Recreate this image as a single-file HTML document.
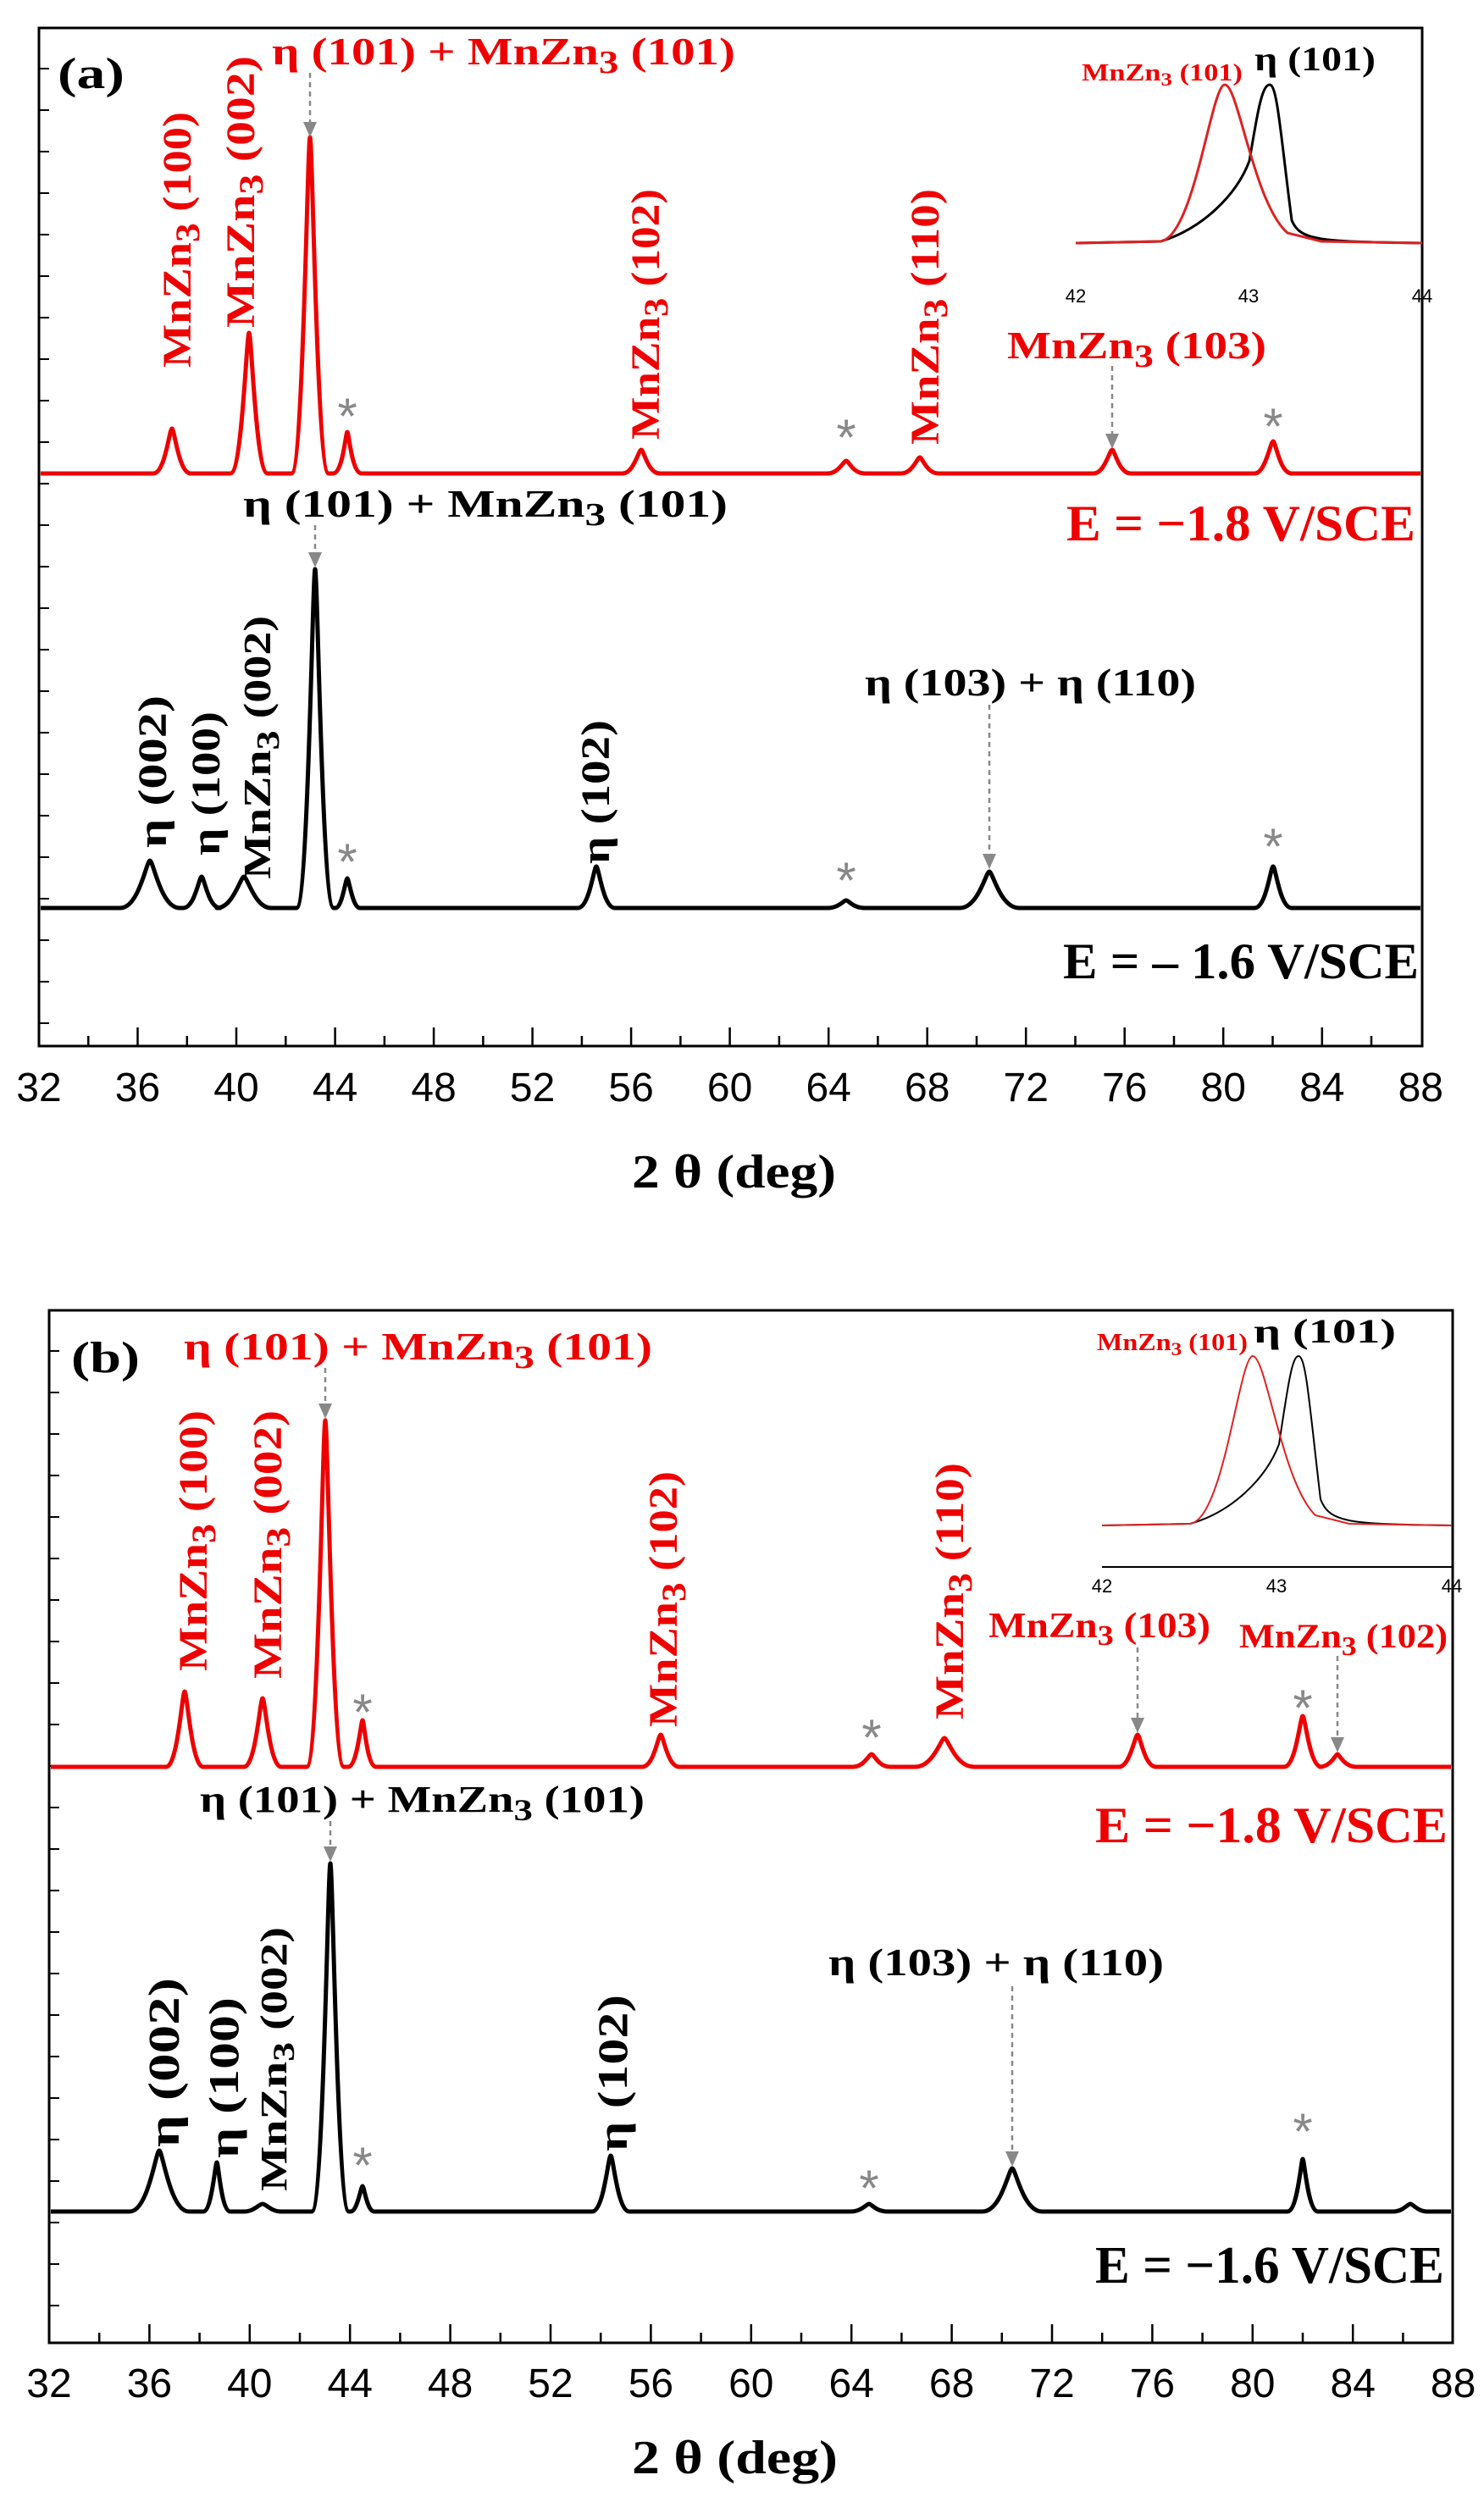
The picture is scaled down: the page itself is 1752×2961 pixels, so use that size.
<!DOCTYPE html>
<html><head><meta charset="utf-8"><style>
html,body{margin:0;padding:0;background:#fff}
svg{display:block}
.t{font-family:"Liberation Serif",serif;font-weight:bold}
.s{font-family:"Liberation Sans",sans-serif}
</style></head><body>
<svg width="1752" height="2961" viewBox="0 0 1752 2961" xmlns="http://www.w3.org/2000/svg">
<rect width="1752" height="2961" fill="#fff"/>

<!-- ===== Panel a frame ===== -->
<rect x="46" y="33" width="1633" height="1202" fill="none" stroke="#000" stroke-width="3"/>
<path d="M46 1235v-22M162.5 1235v-22M279 1235v-22M395.6 1235v-22M512.1 1235v-22M628.6 1235v-22M745.1 1235v-22M861.6 1235v-22M978.2 1235v-22M1094.7 1235v-22M1211.2 1235v-22M1327.7 1235v-22M1444.2 1235v-22M1560.8 1235v-22M104.3 1235v-12M220.8 1235v-12M337.3 1235v-12M453.9 1235v-12M570.4 1235v-12M686.9 1235v-12M803.4 1235v-12M919.9 1235v-12M1036.4 1235v-12M1153 1235v-12M1269.5 1235v-12M1386 1235v-12M1502.5 1235v-12M1619 1235v-12" stroke="#000" stroke-width="2.5"/>
<line x1="52" y1="80" x2="52" y2="1215" stroke="#000" stroke-width="12" stroke-dasharray="2,47"/>
<g class="s" font-size="48" text-anchor="middle">
<text x="46" y="1300">32</text><text x="162.5" y="1300">36</text><text x="279" y="1300">40</text><text x="395.6" y="1300">44</text><text x="512.1" y="1300">48</text><text x="628.6" y="1300">52</text><text x="745.1" y="1300">56</text><text x="861.6" y="1300">60</text><text x="978.2" y="1300">64</text><text x="1094.7" y="1300">68</text><text x="1211.2" y="1300">72</text><text x="1327.7" y="1300">76</text><text x="1444.2" y="1300">80</text><text x="1560.8" y="1300">84</text><text x="1677.3" y="1300">88</text>
</g>
<!-- a red -->
<path d="M48 559L181 559C195 559 200 506 203 506S211 559 225 559L272 559C286 559 291 393 294 393S302 559 316 559L344 559C358 559 363 162 366 162S374 559 388 559L393 559C405 559 408 510 410 510S415 559 427 559L735 559C748 559 754 531 757 531S765 559 779 559L977 559C990 559 996 544 999 544S1007 559 1021 559L1064 559C1077 559 1083 540 1086 540S1094 559 1108 559L1291 559C1304 559 1310 531 1313 531S1321 559 1335 559L1481 559C1494 559 1500 521 1503 521S1511 559 1525 559L1677 559" fill="none" stroke="#e00" stroke-width="5" stroke-linejoin="round"/>
<!-- a black -->
<path d="M48 1072L142 1072C164 1072 173 1016 177 1016S190 1072 212 1072L216 1072C230 1072 235 1035 238 1035S246 1072 260 1072L256 1072C275 1072 284 1035 288 1035S301 1072 320 1072L350 1072C364 1072 369 672 372 672S380 1072 394 1072L396 1072C404 1072 408 1037 410 1037S416 1072 425 1072L682 1072C696 1072 701 1023 704 1023S712 1072 726 1072L977 1072C990 1072 996 1063 999 1063S1007 1072 1021 1072L1133 1072C1155 1072 1164 1029 1168 1029S1181 1072 1203 1072L1481 1072C1495 1072 1500 1023 1503 1023S1511 1072 1525 1072L1677 1072" fill="none" stroke="#000" stroke-width="5" stroke-linejoin="round"/>
<!-- a arrows -->
<g stroke="#888" stroke-width="2.5" stroke-dasharray="6,5">
<path d="M366 86V146M1313 432V514M372 620V654M1168 832V1010"/>
</g>
<g fill="#888">
<path d="M358 144L374 144L366 162Z M1305 512L1321 512L1313 530Z M364 652L380 652L372 670Z M1160 1008L1176 1008L1168 1026Z"/>
</g>
<g class="s" font-size="60" fill="#888" text-anchor="middle">
<text x="410" y="512">*</text><text x="999" y="537">*</text><text x="1503" y="524">*</text>
<text x="410" y="1038">*</text><text x="999" y="1060">*</text><text x="1503" y="1020">*</text>
</g>
<!-- inset a -->
<path d="M1270 287L1370 285C1420 270 1460 230 1475 190C1485 130 1490 100 1499 100C1508 100 1512 160 1525 260C1535 285 1560 285 1679 287" fill="none" stroke="#000" stroke-width="3"/>
<path d="M1270 287L1370 285C1410 280 1430 100 1446 100C1462 100 1480 240 1520 275L1560 285L1679 287" fill="none" stroke="#d22" stroke-width="3"/>
<g class="s" font-size="22" text-anchor="middle"><text x="1270" y="357">42</text><text x="1474" y="357">43</text><text x="1679" y="357">44</text></g>

<!-- Panel a text -->
<g class="t">
<text x="68" y="104" font-size="52" textLength="79" lengthAdjust="spacingAndGlyphs">(a)</text>
<text x="321" y="76" font-size="46" fill="#e00" textLength="547" lengthAdjust="spacingAndGlyphs">η (101) + MnZn<tspan dy="10" font-size="38">3</tspan><tspan dy="-10"> (101)</tspan></text>
<text transform="translate(225,434) rotate(-90)" font-size="48" fill="#e00" textLength="302" lengthAdjust="spacingAndGlyphs">MnZn<tspan dy="10" font-size="40">3</tspan><tspan dy="-10"> (100)</tspan></text>
<text transform="translate(300,387) rotate(-90)" font-size="48" fill="#e00" textLength="321" lengthAdjust="spacingAndGlyphs">MnZn<tspan dy="10" font-size="40">3</tspan><tspan dy="-10"> (002)</tspan></text>
<text transform="translate(778,519) rotate(-90)" font-size="48" fill="#e00" textLength="296" lengthAdjust="spacingAndGlyphs">MnZn<tspan dy="10" font-size="40">3</tspan><tspan dy="-10"> (102)</tspan></text>
<text transform="translate(1108,525) rotate(-90)" font-size="48" fill="#e00" textLength="302" lengthAdjust="spacingAndGlyphs">MnZn<tspan dy="10" font-size="40">3</tspan><tspan dy="-10"> (110)</tspan></text>
<text x="1189" y="423" font-size="46" fill="#e00" textLength="306" lengthAdjust="spacingAndGlyphs">MnZn<tspan dy="10" font-size="38">3</tspan><tspan dy="-10"> (103)</tspan></text>
<text x="1259" y="638" font-size="60" fill="#e00" textLength="412" lengthAdjust="spacingAndGlyphs">E = −1.8 V/SCE</text>
<text x="287" y="610" font-size="46" textLength="572" lengthAdjust="spacingAndGlyphs">η (101) + MnZn<tspan dy="10" font-size="38">3</tspan><tspan dy="-10"> (101)</tspan></text>
<text x="1021" y="821" font-size="46" textLength="391" lengthAdjust="spacingAndGlyphs">η (103) + η (110)</text>
<text x="1255" y="1155" font-size="60" textLength="420" lengthAdjust="spacingAndGlyphs">E = – 1.6 V/SCE</text>
<text transform="translate(196,1001) rotate(-90)" font-size="48" textLength="180" lengthAdjust="spacingAndGlyphs">η (002)</text>
<text transform="translate(259,1010) rotate(-90)" font-size="48" textLength="170" lengthAdjust="spacingAndGlyphs">η (100)</text>
<text transform="translate(319,1038) rotate(-90)" font-size="46" textLength="311" lengthAdjust="spacingAndGlyphs">MnZn<tspan dy="10" font-size="38">3</tspan><tspan dy="-10"> (002)</tspan></text>
<text transform="translate(719,1020) rotate(-90)" font-size="48" textLength="170" lengthAdjust="spacingAndGlyphs">η (102)</text>
<text x="1277" y="95" font-size="28" fill="#e00" textLength="190" lengthAdjust="spacingAndGlyphs">MnZn<tspan dy="6" font-size="22">3</tspan><tspan dy="-6"> (101)</tspan></text>
<text x="1481" y="83" font-size="40" textLength="143" lengthAdjust="spacingAndGlyphs">η (101)</text>
<text x="746" y="1402" font-size="56" textLength="241" lengthAdjust="spacingAndGlyphs">2 θ (deg)</text>
</g>

<!-- ===== Panel b frame ===== -->
<rect x="58" y="1547" width="1657" height="1219" fill="none" stroke="#000" stroke-width="3"/>
<path d="M58 2766v-22M176.4 2766v-22M294.8 2766v-22M413.2 2766v-22M531.6 2766v-22M650 2766v-22M768.4 2766v-22M886.8 2766v-22M1005.2 2766v-22M1123.6 2766v-22M1242 2766v-22M1360.4 2766v-22M1478.8 2766v-22M1597.2 2766v-22M117.2 2766v-12M235.6 2766v-12M354 2766v-12M472.4 2766v-12M590.8 2766v-12M709.2 2766v-12M827.6 2766v-12M946 2766v-12M1064.4 2766v-12M1182.8 2766v-12M1301.2 2766v-12M1419.6 2766v-12M1538 2766v-12M1656.4 2766v-12" stroke="#000" stroke-width="2.5"/>
<line x1="64" y1="1594" x2="64" y2="2745" stroke="#000" stroke-width="12" stroke-dasharray="2,47"/>
<g class="s" font-size="48" text-anchor="middle">
<text x="58" y="2830">32</text><text x="176.4" y="2830">36</text><text x="294.8" y="2830">40</text><text x="413.2" y="2830">44</text><text x="531.6" y="2830">48</text><text x="650" y="2830">52</text><text x="768.4" y="2830">56</text><text x="886.8" y="2830">60</text><text x="1005.2" y="2830">64</text><text x="1123.6" y="2830">68</text><text x="1242" y="2830">72</text><text x="1360.4" y="2830">76</text><text x="1478.8" y="2830">80</text><text x="1597.2" y="2830">84</text><text x="1715.6" y="2830">88</text>
</g>
<!-- b red -->
<path d="M60 2086L196 2086C210 2086 215 1997 218 1997S226 2086 240 2086L288 2086C302 2086 307 2005 310 2005S318 2086 332 2086L362 2086C376 2086 381 1677 384 1677S392 2086 406 2086L411 2086C422 2086 426 2031 428 2031S433 2086 444 2086L758 2086C772 2086 777 2048 780 2048S788 2086 802 2086L1007 2086C1020 2086 1026 2071 1029 2071S1037 2086 1051 2086L1080 2086C1102 2086 1111 2052 1115 2052S1128 2086 1150 2086L1321 2086C1334 2086 1340 2048 1343 2048S1351 2086 1365 2086L1516 2086C1530 2086 1535 2026 1538 2026S1546 2086 1560 2086L1558 2086C1571 2086 1577 2071 1579 2071S1587 2086 1601 2086L1713 2086" fill="none" stroke="#e00" stroke-width="5" stroke-linejoin="round"/>
<!-- b black -->
<path d="M60 2611L153 2611C175 2611 184 2539 188 2539S201 2611 223 2611L240 2611C250 2611 254 2553 256 2553S261 2611 272 2611L288 2611C300 2611 306 2602 310 2602S320 2611 332 2611L368 2611C382 2611 387 2200 390 2200S398 2611 412 2611L414 2611C422 2611 426 2581 428 2581S433 2611 442 2611L699 2611C713 2611 718 2545 721 2545S729 2611 743 2611L1004 2611C1017 2611 1023 2602 1026 2602S1034 2611 1048 2611L1160 2611C1182 2611 1191 2560 1195 2560S1208 2611 1230 2611L1520 2611C1532 2611 1536 2549 1538 2549S1544 2611 1556 2611L1645 2611C1656 2611 1662 2602 1665 2602S1674 2611 1685 2611L1713 2611" fill="none" stroke="#000" stroke-width="5" stroke-linejoin="round"/>
<!-- b arrows -->
<g stroke="#888" stroke-width="2.5" stroke-dasharray="6,5">
<path d="M384 1615V1659M1343 1945V2030M1579 1955V2053M390 2150V2182M1195 2345V2542"/>
</g>
<g fill="#888">
<path d="M376 1657L392 1657L384 1675Z M1335 2028L1351 2028L1343 2046Z M1571 2051L1587 2051L1579 2069Z M382 2180L398 2180L390 2198Z M1187 2540L1203 2540L1195 2558Z"/>
</g>
<g class="s" font-size="60" fill="#888" text-anchor="middle">
<text x="428" y="2042">*</text><text x="1029" y="2072">*</text><text x="1538" y="2037">*</text>
<text x="428" y="2577">*</text><text x="1026" y="2604">*</text><text x="1538" y="2537">*</text>
</g>
<!-- inset b -->
<path d="M1301 1801L1405 1799C1455 1785 1495 1745 1510 1705C1520 1640 1525 1601 1533 1601C1542 1601 1546 1660 1559 1770C1570 1799 1595 1799 1714 1801" fill="none" stroke="#000" stroke-width="2"/>
<path d="M1301 1801L1405 1799C1445 1794 1463 1601 1479 1601C1495 1601 1513 1750 1553 1789L1593 1799L1714 1801" fill="none" stroke="#d22" stroke-width="2"/>
<line x1="1301" y1="1850" x2="1714" y2="1850" stroke="#000" stroke-width="2"/>
<g class="s" font-size="22" text-anchor="middle"><text x="1301" y="1880">42</text><text x="1507" y="1880">43</text><text x="1714" y="1880">44</text></g>

<!-- Panel b text -->
<g class="t">
<text x="84" y="1620" font-size="52" textLength="81" lengthAdjust="spacingAndGlyphs">(b)</text>
<text x="217" y="1605" font-size="46" fill="#e00" textLength="553" lengthAdjust="spacingAndGlyphs">η (101) + MnZn<tspan dy="10" font-size="38">3</tspan><tspan dy="-10"> (101)</tspan></text>
<text transform="translate(244,1973) rotate(-90)" font-size="48" fill="#e00" textLength="308" lengthAdjust="spacingAndGlyphs">MnZn<tspan dy="10" font-size="40">3</tspan><tspan dy="-10"> (100)</tspan></text>
<text transform="translate(332,1982) rotate(-90)" font-size="48" fill="#e00" textLength="317" lengthAdjust="spacingAndGlyphs">MnZn<tspan dy="10" font-size="40">3</tspan><tspan dy="-10"> (002)</tspan></text>
<text transform="translate(799,2039) rotate(-90)" font-size="48" fill="#e00" textLength="302" lengthAdjust="spacingAndGlyphs">MnZn<tspan dy="10" font-size="40">3</tspan><tspan dy="-10"> (102)</tspan></text>
<text transform="translate(1137,2030) rotate(-90)" font-size="48" fill="#e00" textLength="303" lengthAdjust="spacingAndGlyphs">MnZn<tspan dy="10" font-size="40">3</tspan><tspan dy="-10"> (110)</tspan></text>
<text x="1167" y="1933" font-size="42" fill="#e00" textLength="262" lengthAdjust="spacingAndGlyphs">MnZn<tspan dy="9" font-size="34">3</tspan><tspan dy="-9"> (103)</tspan></text>
<text x="1463" y="1945" font-size="40" fill="#e00" textLength="246" lengthAdjust="spacingAndGlyphs">MnZn<tspan dy="9" font-size="32">3</tspan><tspan dy="-9"> (102)</tspan></text>
<text x="1293" y="2175" font-size="60" fill="#e00" textLength="416" lengthAdjust="spacingAndGlyphs">E = −1.8 V/SCE</text>
<text x="236" y="2139" font-size="44" textLength="525" lengthAdjust="spacingAndGlyphs">η (101) + MnZn<tspan dy="10" font-size="36">3</tspan><tspan dy="-10"> (101)</tspan></text>
<text x="978" y="2332" font-size="46" textLength="396" lengthAdjust="spacingAndGlyphs">η (103) + η (110)</text>
<text x="1293" y="2695" font-size="62" textLength="412" lengthAdjust="spacingAndGlyphs">E = −1.6 V/SCE</text>
<text transform="translate(211,2535) rotate(-90)" font-size="52" textLength="200" lengthAdjust="spacingAndGlyphs">η (002)</text>
<text transform="translate(281,2548) rotate(-90)" font-size="50" textLength="190" lengthAdjust="spacingAndGlyphs">η (100)</text>
<text transform="translate(338,2587) rotate(-90)" font-size="44" textLength="312" lengthAdjust="spacingAndGlyphs">MnZn<tspan dy="9" font-size="36">3</tspan><tspan dy="-9"> (002)</tspan></text>
<text transform="translate(740,2540) rotate(-90)" font-size="50" textLength="185" lengthAdjust="spacingAndGlyphs">η (102)</text>
<text x="1295" y="1594" font-size="28" fill="#e00" textLength="178" lengthAdjust="spacingAndGlyphs">MnZn<tspan dy="6" font-size="22">3</tspan><tspan dy="-6"> (101)</tspan></text>
<text x="1480" y="1585" font-size="40" textLength="168" lengthAdjust="spacingAndGlyphs">η (101)</text>
<text x="746" y="2920" font-size="56" textLength="243" lengthAdjust="spacingAndGlyphs">2 θ (deg)</text>
</g>
</svg>
</body></html>
